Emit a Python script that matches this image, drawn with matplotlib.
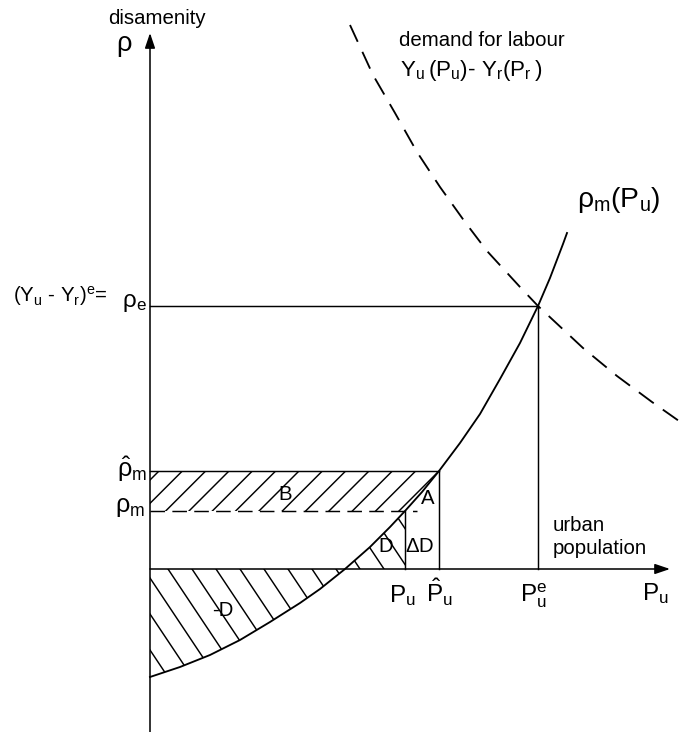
import numpy as np
import matplotlib
matplotlib.use("Agg")
import matplotlib.pyplot as plt
from matplotlib.patches import Polygon

# Diagram values (horizontal: urban population P_u, vertical: disamenity rho)
pu_supply = [0, 30, 60, 90, 120, 150, 170, 195, 220, 240, 255, 272, 289,
             310, 330, 350, 370, 388, 400, 413, 417]
rho_supply = [-108, -98, -86, -71, -53, -34, -20, 0, 22, 42, 58, 77, 98,
              126, 155, 190, 226, 263, 291, 325, 336]

pu_demand = [200, 223, 245, 267, 290, 315, 337, 370, 388, 433, 467, 502, 529]
rho_demand = [544, 494, 456, 417, 382, 347, 318, 282, 263, 221, 193, 167, 148]

pu_zero = 195      # supply curve crosses the axis
pu_m = 255         # P_u
pu_hat = 289       # P_u hat
pu_e = 388         # P_u^e
rho_m = 58
rho_m_hat = 98
rho_e = 263

x_min, x_max = -150, 529
y_min, y_max = -163, 569

plt.rcParams['font.family'] = ['Liberation Sans', 'DejaVu Sans']
plt.rcParams['mathtext.default'] = 'regular'
plt.rcParams['hatch.linewidth'] = 0.75

dpi = 140
fig = plt.figure(figsize=(679 / dpi, 732 / dpi), dpi=dpi)
ax = fig.add_axes([0, 0, 1, 1])
ax.set_xlim(x_min, x_max)
ax.set_ylim(y_min, y_max)
ax.axis('off')

x_s = np.array(pu_supply)
y_s = np.array(rho_supply)


def steep_hatch(verts, spacing=24, slope=1.5):
    # draw "\" hatching, steeper than the built-in one, clipped to a region
    region = Polygon(verts, closed=True, facecolor='none', edgecolor='none')
    ax.add_patch(region)
    for c in np.arange(-150, 330, spacing):
        ln, = ax.plot([c - 200, c + 200], [300, -300], color='black',
                      lw=0.75)
        ln.set_clip_path(region)


# -D : between axis and curve, below the axis
m = x_s <= pu_zero
steep_hatch(list(zip(x_s[m], y_s[m])) + [(0, 0)])
# D : under the curve up to P_u
m = (x_s >= pu_zero) & (x_s <= pu_m)
steep_hatch(list(zip(x_s[m], y_s[m])) + [(pu_m, 0)])
# B : between rho_m and rho_m hat, left of the curve
m = (x_s >= pu_m) & (x_s <= pu_hat)
bx = [0, 0] + list(x_s[m][::-1]) + [pu_m]
by = [rho_m, rho_m_hat] + list(y_s[m][::-1]) + [rho_m]
ax.fill(bx, by, facecolor='none', edgecolor='black', linewidth=0, hatch='//')

# axes with arrows
arrow = dict(arrowstyle='-|>,head_length=0.65,head_width=0.22', lw=0.8,
             color='black', shrinkA=0, shrinkB=0, mutation_scale=10)
ax.annotate('', xy=(0, 536), xytext=(0, y_min), arrowprops=arrow)
ax.annotate('', xy=(520, 0), xytext=(0, 0), arrowprops=arrow)

# curves
ax.plot(x_s, y_s, color='black', lw=0.95, solid_joinstyle='round')
ax.plot(pu_demand, rho_demand, color='black', lw=0.95,
        linestyle=(0, (10, 6)))

# guide lines
lw = 0.75
ax.plot([0, pu_e], [rho_e, rho_e], color='black', lw=lw)
ax.plot([pu_e, pu_e], [0, rho_e], color='black', lw=lw)
ax.plot([0, pu_hat], [rho_m_hat, rho_m_hat], color='black', lw=lw)
ax.plot([pu_hat, pu_hat], [0, rho_m_hat], color='black', lw=lw)
ax.plot([0, 267], [rho_m, rho_m], color='black', lw=lw,
        linestyle=(0, (10, 5)))
ax.plot([pu_m, pu_m], [0, rho_m], color='black', lw=lw)

fs = 10.5
# labels
ax.text(7, 545, 'disamenity', ha='center', va='baseline', fontsize=fs)
ax.text(-26, 523, r'$\rho$', ha='center', va='center', fontsize=14)
ax.text(249, 523, 'demand for labour', ha='left', va='baseline', fontsize=fs)
ax.text(250, 493, r'$Y_u\,(P_u)$- $Y_r(P_r\,)$', ha='left', va='baseline',
        fontsize=11.5)
ax.text(427, 362, r'$\rho_m(P_u)$', ha='left', va='baseline', fontsize=14.5)
ax.text(-137, 267, r'$(Y_u$ - $Y_r)^e$=', ha='left', va='baseline',
        fontsize=fs)
ax.text(-3, 266, r'$\rho_e$', ha='right', va='center', fontsize=12.5)
ax.text(-3, 100, r'$\hat{\rho}_m$', ha='right', va='center', fontsize=13)
ax.text(-5, 62, r'$\rho_m$', ha='right', va='center', fontsize=13)

ax.text(135, 74, 'B', ha='center', va='center', fontsize=fs)
ax.text(278, 70, 'A', ha='center', va='center', fontsize=fs)
ax.text(236, 22, 'D', ha='center', va='center', fontsize=fs)
ax.text(270, 22, r'$\Delta$D', ha='center', va='center', fontsize=fs)
ax.text(73, -42, '-D', ha='center', va='center', fontsize=fs)
ax.text(403, 32, 'urban\npopulation', ha='left', va='center', fontsize=fs,
        linespacing=1.25)

fl = 12.5
ax.text(252, -33, r'$P_u$', ha='center', va='baseline', fontsize=fl)
ax.text(289, -33, r'$\hat{P}_u$', ha='center', va='baseline', fontsize=fl)
ax.text(384, -33, r'$P_u^e$', ha='center', va='baseline', fontsize=fl)
ax.text(505, -31, r'$P_u$', ha='center', va='baseline', fontsize=fl)

fig.savefig('out.png', dpi=dpi, facecolor='white')
